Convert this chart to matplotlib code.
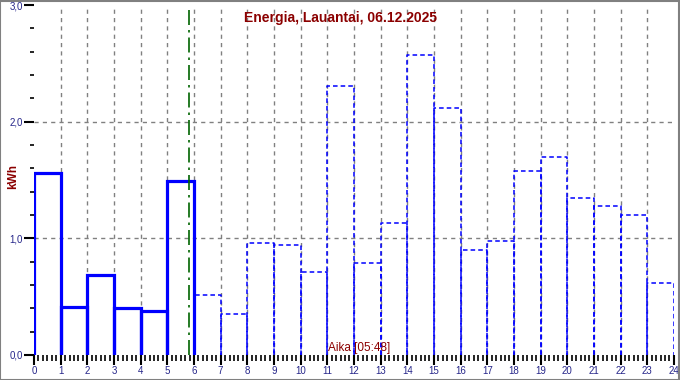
import matplotlib
matplotlib.use("Agg")
import matplotlib.pyplot as plt
from matplotlib.ticker import MultipleLocator

plt.rcParams['font.family'] = ['Liberation Sans', 'DejaVu Sans']

hours = list(range(24))
energy_kwh = [1.56, 0.41, 0.69, 0.40, 0.38, 1.49, 0.51, 0.35, 0.96, 0.94, 0.71, 2.31,
              0.79, 1.13, 2.57, 2.12, 0.90, 0.98, 1.58, 1.70, 1.35, 1.28, 1.20, 0.62]
measured_hours = 6          # hours 0..5 are measured (solid), rest forecast (dashed)
now_hour = 5 + 48 / 60      # 05:48
title = "Energia, Lauantai, 06.12.2025"
y_label = "kWh"
time_label = "Aika [05:48]"
x_tick_labels = [str(h) for h in range(25)]
y_tick_values = [0.0, 1.0, 2.0, 3.0]
y_tick_labels = ["0,0", "1,0", "2,0", "3,0"]

fig = plt.figure(figsize=(6.8, 3.8), dpi=100)
ax = fig.add_axes([0.05, 0.0658, 0.941, 0.921])

dark_red = '#8b0000'
tick_col = '#26268a'

# grid
for h in range(1, 24):
    ax.axvline(h, color='#808080', lw=1.0, ls=(0, (3, 3)), zorder=1)
for y in (1.0, 2.0):
    ax.axhline(y, color='#808080', lw=1.0, ls=(0, (3, 3)), zorder=1)

# bars as outlines
for h, v in zip(hours, energy_kwh):
    xs = [h, h, h + 1, h + 1]
    ys = [0, v, v, 0]
    if h < measured_hours:
        ax.plot(xs, ys, color='#0000ff', lw=2.3, solid_joinstyle='miter', zorder=3)
    else:
        ax.plot(xs, ys, color='#0000ff', lw=1.1, ls=(0, (3, 2)), zorder=3)

# current time line
ax.plot([now_hour, now_hour], [0, 2.96], color='#006400', lw=1.2,
        ls=(0, (9, 3, 1.5, 3)), zorder=4)

ax.set_xlim(0, 24)
ax.set_ylim(0, 3.0)
ax.set_xticks(range(25))
ax.set_xticklabels(x_tick_labels)
ax.xaxis.set_minor_locator(MultipleLocator(1 / 6))
ax.set_yticks(y_tick_values)
ax.set_yticklabels(y_tick_labels)
ax.yaxis.set_minor_locator(MultipleLocator(0.2))

ax.tick_params(axis='x', which='major', length=7, width=1.5, color='black',
               labelsize=7, labelcolor=tick_col, pad=1)
ax.tick_params(axis='x', which='minor', length=4, width=1.2, color='black')
ax.tick_params(axis='y', which='major', length=7, width=1.5, color='black',
               labelsize=7, labelcolor=tick_col, pad=1)
ax.tick_params(axis='y', which='minor', length=3, width=1.2, color='black')

for s in ax.spines.values():
    s.set_visible(False)

fig.text(0.5, 0.952, title, ha='center', va='center',
         fontsize=10, fontweight='bold', color=dark_red)
fig.text(0.019, 0.535, y_label, rotation=90, ha='center', va='center',
         fontsize=8.5, fontweight='bold', color=dark_red)
ax.text(12.2, 0.005, time_label, ha='center', va='bottom', fontsize=8.5,
        color=dark_red, zorder=5)

# figure border
fig.patches.append(plt.Rectangle((0.0005, 0.001), 0.998, 0.997, transform=fig.transFigure,
                                 fill=False, edgecolor='#808080', lw=1.5))

fig.savefig("out.png", dpi=100)
